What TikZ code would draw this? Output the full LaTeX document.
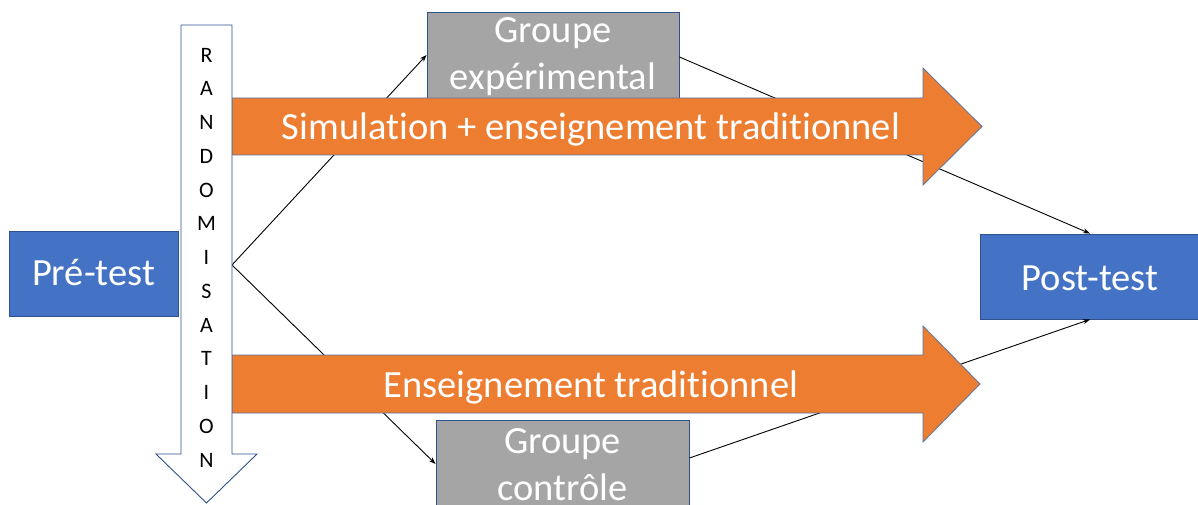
\documentclass[tikz,border=0pt]{standalone}
\usepackage{fontspec}
\setmainfont{Carlito}[Ligatures=CommonOff]
\usetikzlibrary{arrows.meta}
\definecolor{boxblue}{HTML}{4472C4}
\definecolor{edgeblue}{HTML}{2F528F}
\definecolor{orangefill}{HTML}{ED7D31}
\definecolor{grayfill}{HTML}{A5A5A5}
\begin{document}
\begin{tikzpicture}[x=1pt,y=-1pt,
  bluebox/.style={draw=edgeblue, line width=0.9pt, fill=boxblue, inner sep=0pt},
  graybox/.style={draw=edgeblue, line width=0.9pt, fill=grayfill, inner sep=0pt},
  label text/.style={text=white, align=center, anchor=base, inner sep=0pt,
    font=\fontsize{38.5}{47}\selectfont},
  bigarrow/.style={draw=edgeblue!80, line width=0.8pt, fill=orangefill},
  downarrow/.style={draw=edgeblue, line width=0.9pt, fill=white},
  link/.style={-{Stealth[length=7pt,width=5pt]}, line width=0.9pt, black}]
\clip (0,0) rectangle (1198,505);
\fill[white] (0,0) rectangle (1198,505);

% groups (text anchored on the baseline of the last line)
\node[graybox, minimum width=252pt, minimum height=86pt] (gexp) at (553,55) {};
\node[label text] (gexptext) at (553,90) {Groupe\\expérimental};
\node[graybox, minimum width=253pt, minimum height=88pt] (gctrl) at (562.5,464) {};
\node[label text] (gctrltext) at (562.5,500) {Groupe\\contrôle};

% tests
\node[bluebox, minimum width=169pt, minimum height=85pt] (pre) at (93.5,273.5) {};
\node[label text] (pretext) at (93.5,285) {Pré-test};
\node[bluebox, minimum width=220pt, minimum height=85pt] (post) at (1090,276.5) {};
\node[label text] (posttext) at (1090,290) {Post-test};

% connectors
\coordinate (split) at (232,265);
\draw[link] (split) -- (gexp.west);
\draw[link] (split) -- (gctrl.west);
\draw[link] ([yshift=-2pt]gexp.east) -- (post.north);
\draw[link] ([yshift=6pt]gctrl.east) -- (post.south);

% treatment arrows
\draw[bigarrow] (232,98) -- (923,98) -- (923,68) -- (982,126.5) -- (923,185)
  -- (923,155) -- (232,155) -- cycle;
\node[label text] (sim) at (591,140) {Simulation + enseignement traditionnel};
\draw[bigarrow] (232,355) -- (923,355) -- (923,326) -- (980,384) -- (923,442)
  -- (923,413) -- (232,413) -- cycle;
\node[label text] (ens) at (591,397) {Enseignement traditionnel};

% randomisation arrow
\draw[downarrow] (181,25) -- (232,25) -- (232,454) -- (257,454) -- (206.5,503)
  -- (156,454) -- (181,454) -- cycle;
\node[align=center, anchor=base, inner sep=0pt, font=\fontsize{22}{33.75}\selectfont]
  (rand) at (206.5,467) {R\\A\\N\\D\\O\\M\\I\\S\\A\\T\\I\\O\\N};
\end{tikzpicture}
\end{document}
